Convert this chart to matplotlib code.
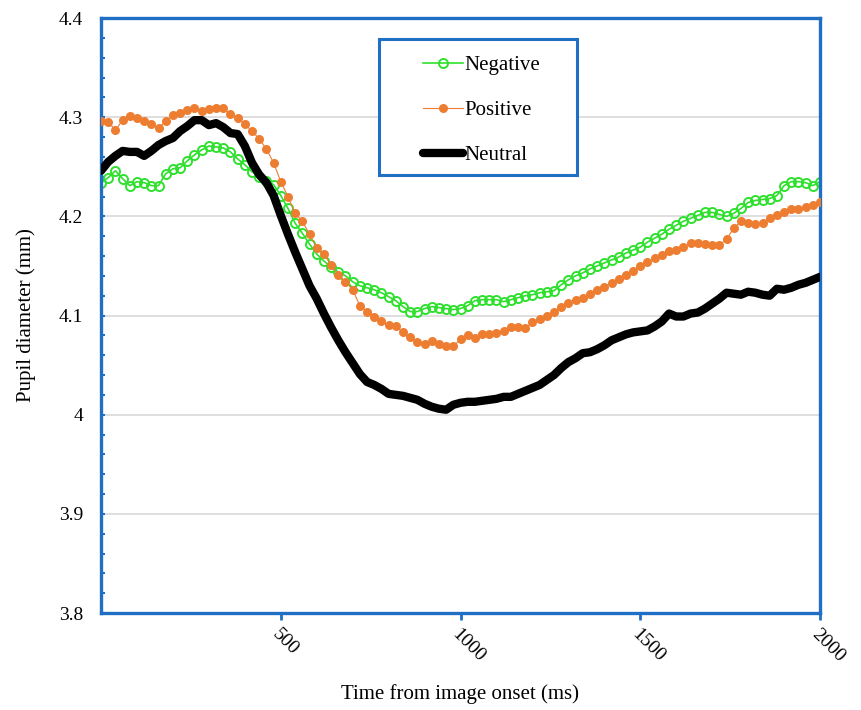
import numpy as np
import matplotlib
matplotlib.use('Agg')
import matplotlib.pyplot as plt
from matplotlib.ticker import MultipleLocator
from matplotlib.patches import Rectangle

plt.rcParams['font.family'] = ['Liberation Serif', 'DejaVu Serif']

# time axis, one reading every 20 ms
time_ms = np.arange(0, 2001, 20)

negative = [
    4.234, 4.239, 4.246, 4.238, 4.231, 4.235, 4.234, 4.231, 4.231, 4.243,
    4.248, 4.249, 4.256, 4.262, 4.267, 4.271, 4.270, 4.269, 4.265, 4.258,
    4.252, 4.245, 4.240, 4.236, 4.232, 4.221, 4.208, 4.193, 4.183, 4.172,
    4.162, 4.155, 4.149, 4.144, 4.140, 4.134, 4.130, 4.128, 4.126, 4.123,
    4.119, 4.115, 4.109, 4.104, 4.104, 4.107, 4.109, 4.108, 4.107, 4.106,
    4.107, 4.110, 4.115, 4.116, 4.116, 4.116, 4.114, 4.116, 4.118, 4.120,
    4.121, 4.123, 4.124, 4.125, 4.131, 4.136, 4.140, 4.143, 4.147, 4.150,
    4.153, 4.156, 4.159, 4.163, 4.166, 4.169, 4.174, 4.178, 4.182, 4.187,
    4.191, 4.195, 4.198, 4.201, 4.204, 4.204, 4.202, 4.200, 4.203, 4.208,
    4.214, 4.216, 4.217, 4.218, 4.221, 4.231, 4.235, 4.235, 4.234, 4.231,
    4.235,
]

positive = [
    4.296, 4.295, 4.287, 4.297, 4.301, 4.299, 4.296, 4.293, 4.289, 4.296,
    4.302, 4.304, 4.307, 4.309, 4.306, 4.308, 4.309, 4.309, 4.303, 4.299,
    4.293, 4.286, 4.278, 4.268, 4.254, 4.235, 4.220, 4.203, 4.195, 4.182,
    4.168, 4.162, 4.151, 4.141, 4.134, 4.126, 4.110, 4.104, 4.099, 4.094,
    4.090, 4.089, 4.083, 4.078, 4.073, 4.071, 4.074, 4.071, 4.069, 4.069,
    4.076, 4.080, 4.077, 4.081, 4.081, 4.082, 4.084, 4.088, 4.088, 4.087,
    4.093, 4.096, 4.100, 4.104, 4.109, 4.113, 4.116, 4.118, 4.122, 4.126,
    4.129, 4.133, 4.137, 4.141, 4.145, 4.150, 4.154, 4.158, 4.161, 4.165,
    4.166, 4.169, 4.173, 4.173, 4.172, 4.171, 4.171, 4.177, 4.188, 4.195,
    4.193, 4.192, 4.193, 4.198, 4.201, 4.204, 4.207, 4.207, 4.209, 4.211,
    4.214,
]

neutral = [
    4.246, 4.255, 4.261, 4.266, 4.265, 4.265, 4.261, 4.266, 4.272, 4.276,
    4.279, 4.286, 4.291, 4.297, 4.297, 4.292, 4.294, 4.290, 4.284, 4.283,
    4.271, 4.254, 4.242, 4.234, 4.221, 4.201, 4.182, 4.164, 4.147, 4.130,
    4.117, 4.102, 4.088, 4.075, 4.063, 4.052, 4.041, 4.033, 4.030, 4.026,
    4.021, 4.020, 4.019, 4.017, 4.015, 4.011, 4.008, 4.006, 4.005, 4.010,
    4.012, 4.013, 4.013, 4.014, 4.015, 4.016, 4.018, 4.018, 4.021, 4.024,
    4.027, 4.030, 4.035, 4.040, 4.047, 4.053, 4.057, 4.062, 4.063, 4.066,
    4.070, 4.075, 4.078, 4.081, 4.083, 4.084, 4.085, 4.089, 4.094, 4.102,
    4.099, 4.099, 4.102, 4.103, 4.107, 4.112, 4.117, 4.123, 4.122, 4.121,
    4.124, 4.123, 4.121, 4.120, 4.127, 4.126, 4.128, 4.131, 4.133, 4.136,
    4.139,
]

blue = '#1f6fc5'
green = '#2fe02f'
orange = '#ed7d31'

fig = plt.figure(figsize=(8.62, 7.10), dpi=100)
ax = fig.add_axes([0.1172, 0.1366, 0.8341, 0.838])

ax.plot(time_ms, negative, color=green, lw=1.2, marker='o', ms=6.5,
        mfc='none', mec=green, mew=1.4, label='Negative', zorder=2)
ax.plot(time_ms, positive, color=orange, lw=0.8, marker='o', ms=6.5,
        mfc=orange, mec=orange, mew=0, label='Positive', zorder=3)
ax.plot(time_ms, neutral, color='black', lw=6, solid_capstyle='round',
        label='Neutral', zorder=4)

ax.set_xlim(0, 2000)
ax.set_ylim(3.8, 4.4)
ax.set_xticks([500, 1000, 1500, 2000])
ax.set_yticks([3.8, 3.9, 4.0, 4.1, 4.2, 4.3, 4.4])
ax.set_yticklabels(['3.8', '3.9', '4', '4.1', '4.2', '4.3', '4.4'])
ax.yaxis.set_minor_locator(MultipleLocator(0.02))
ax.grid(axis='y', color='#d9d9d9', lw=1.2, zorder=0)
ax.set_axisbelow(True)

for s in ax.spines.values():
    s.set_color(blue)
    s.set_linewidth(2.4)

ax.tick_params(axis='x', direction='out', length=5, width=2, color=blue,
               labelsize=14, pad=4)
ax.tick_params(axis='y', which='both', direction='in', length=3, width=1.5,
               color=blue, labelsize=14, pad=13)
for lab in ax.get_xticklabels():
    lab.set_rotation(-45)
    lab.set_ha('left')
    lab.set_va('top')
    lab.set_rotation_mode('anchor')

fig.text(0.534, 0.0225, 'Time from image onset (ms)', fontsize=15,
         ha='center', va='center')
fig.text(0.03, 0.556, 'Pupil diameter (mm)', fontsize=15, rotation=90,
         ha='center', va='center')

# legend box drawn by hand, entries without their own frame
ax.add_patch(Rectangle((0.3866, 0.736), 0.2754, 0.2286, transform=ax.transAxes,
                       fill=True, facecolor='white', edgecolor=blue, lw=2.2,
                       zorder=5))
leg = ax.legend(loc='upper left', bbox_to_anchor=(0.4478, 0.9368), fontsize=15,
                frameon=False, handlelength=1.9, handletextpad=0.1,
                labelspacing=1.22, borderpad=0, borderaxespad=0)
leg.set_zorder(6)
for line in leg.get_lines():
    if line.get_label() == 'Neutral':
        line.set_linewidth(6)

fig.savefig('out.png', dpi=100)
